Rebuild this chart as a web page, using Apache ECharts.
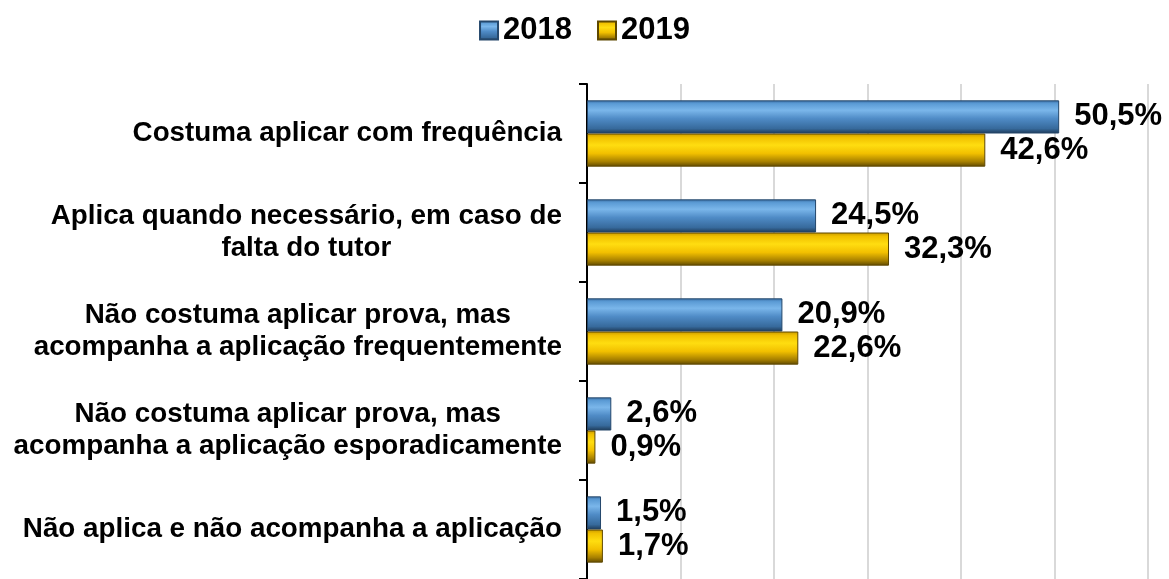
<!DOCTYPE html>
<html>
<head>
<meta charset="utf-8">
<script src="https://cdn.jsdelivr.net/npm/echarts@6/dist/echarts.min.js"></script>
<style>
  html, body { margin: 0; padding: 0; background: #fff; }
  #main { width: 1169px; height: 579px; }
</style>
</head>
<body>
<div id="main"></div>
<script>
var categories = [
  'Costuma aplicar com frequência',
  'Aplica quando necessário, em caso de\nfalta do tutor',
  'Não costuma aplicar prova, mas\nacompanha a aplicação frequentemente',
  'Não costuma aplicar prova, mas\nacompanha a aplicação esporadicamente',
  'Não aplica e não acompanha a aplicação'
];
var seriesNames = ['2018', '2019'];
var values2018 = [50.5, 24.5, 20.9, 2.6, 1.5];
var values2019 = [42.6, 32.3, 22.6, 0.9, 1.7];

var myChart = echarts.init(document.getElementById('main'));

function grad(stops) {
  return new echarts.graphic.LinearGradient(0, 0, 0, 1, stops);
}

var blueFill = grad([
  {offset: 0, color: '#3a6fa5'},
  {offset: 0.1, color: '#5b9bd5'},
  {offset: 0.3, color: '#7ab6ea'},
  {offset: 0.55, color: '#4f8bc6'},
  {offset: 0.85, color: '#376a9c'},
  {offset: 1, color: '#1e3a57'}
]);
var goldFill = grad([
  {offset: 0, color: '#c89a00'},
  {offset: 0.12, color: '#f0c000'},
  {offset: 0.35, color: '#ffdd10'},
  {offset: 0.6, color: '#f2c000'},
  {offset: 0.85, color: '#a67f00'},
  {offset: 1, color: '#5e4800'}
]);

function fmt(p) {
  return p.value.toFixed(1).replace('.', ',') + '%';
}

var labelStyle = {
  show: true,
  position: 'right',
  distance: 15,
  formatter: fmt,
  fontFamily: 'Arial, "Liberation Sans", sans-serif',
  fontWeight: 'bold',
  fontSize: 31,
  color: '#000'
};

option = {
  animation: false,
  legend: {
    data: seriesNames,
    top: 10,
    left: 'center',
    itemWidth: 18,
    itemHeight: 18,
    itemGap: 25,
    icon: 'rect',
    textStyle: {
      fontFamily: 'Arial, "Liberation Sans", sans-serif',
      fontWeight: 'bold',
      fontSize: 31,
      color: '#000'
    }
  },
  grid: {
    left: 587,
    right: 21,
    top: 84,
    bottom: -5,
    containLabel: false
  },
  xAxis: {
    type: 'value',
    min: 0,
    max: 60,
    interval: 10,
    axisLabel: { show: false },
    axisLine: { show: false },
    axisTick: { show: false },
    splitLine: { show: true, lineStyle: { color: '#d9d9d9', width: 2 } }
  },
  yAxis: {
    type: 'category',
    inverse: true,
    data: categories,
    axisLine: { show: true, lineStyle: { color: '#000', width: 2 } },
    axisTick: { show: true, length: 8, lineStyle: { color: '#000', width: 2 } },
    axisLabel: {
      margin: 25,
      align: 'right',
      fontFamily: 'Arial, "Liberation Sans", sans-serif',
      fontWeight: 'bold',
      fontSize: 27.8,
      lineHeight: 32,
      color: '#000',
      formatter: function (v) {
        return v.split('\n').map(function (s) { return '{c|' + s + '}'; }).join('\n');
      },
      rich: {
        c: {
          align: 'center',
          fontFamily: 'Arial, "Liberation Sans", sans-serif',
          fontWeight: 'bold',
          fontSize: 27.8,
          lineHeight: 32,
          color: '#000'
        }
      }
    }
  },
  series: [
    {
      name: seriesNames[0],
      type: 'bar',
      data: values2018,
      barGap: '0%',
      barCategoryGap: '33%',
      itemStyle: { color: blueFill, borderColor: '#24476b', borderWidth: 1 },
      label: labelStyle
    },
    {
      name: seriesNames[1],
      type: 'bar',
      data: values2019,
      barGap: '0%',
      barCategoryGap: '33%',
      itemStyle: { color: goldFill, borderColor: '#5e4800', borderWidth: 1 },
      label: labelStyle
    }
  ]
};

myChart.setOption(option);
</script>
</body>
</html>
